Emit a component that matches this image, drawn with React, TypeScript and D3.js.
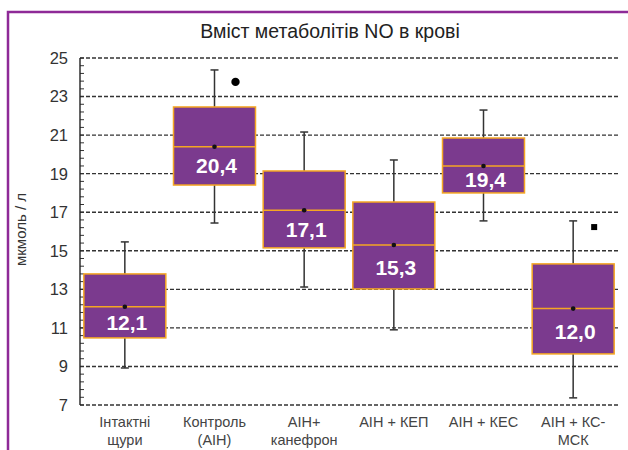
import React from "react";
import * as d3 from "d3";

const categories = [
  ["Інтактні", "щури"],
  ["Контроль", "(АІН)"],
  ["АІН+", "канефрон"],
  ["АІН + КЕП"],
  ["АІН + КЕС"],
  ["АІН + КС-", "МСК"],
];
const whiskerLow = [8.92, 16.44, 13.12, 10.9, 16.55, 7.37];
const q1 = [10.48, 18.41, 15.15, 13.02, 18.0, 9.65];
const median = [12.1, 20.4, 17.1, 15.3, 19.4, 12.0];
const q3 = [13.8, 22.46, 19.14, 17.53, 20.85, 14.32];
const whiskerHigh = [15.46, 24.38, 21.16, 19.71, 22.3, 16.55];
const labels = ["12,1", "20,4", "17,1", "15,3", "19,4", "12,0"];
const outliers = [
  { cat: 1, value: 23.76, shape: "circle", dx: 21 },
  { cat: 5, value: 16.23, shape: "square", dx: 21 },
];
const yTicks = [7, 9, 11, 13, 15, 17, 19, 21, 23, 25];

const W = 628;
const H = 450;
const left = 80;
const right = 618;
const top = 58;
const bottom = 405;

export default function App() {
  const x = d3
    .scaleBand<number>()
    .domain(d3.range(categories.length))
    .range([left, right])
    .paddingInner(0)
    .paddingOuter(0);
  const y = d3.scaleLinear().domain([7, 25]).range([bottom, top]);
  const boxW = 82;
  const minor = d3.range(7, 25.001, 0.4);
  const fill = "#7B3A8E";
  const edge = "#F5A623";
  const font = "'Liberation Sans', Arial, sans-serif";

  return (
    <div style={{ position: "absolute", left: 0, top: 0 }}>
      <svg width={W} height={H} style={{ display: "block", background: "#fff" }}>
        <rect x={8} y={12} width={W + 20} height={H + 20} fill="#fff" stroke="#8E2A97" strokeWidth={2.5} />
        <text x={330} y={38} textAnchor="middle" fontFamily={font} fontSize={19.5} fill="#222">
          Вміст метаболітів NO в крові
        </text>
        {yTicks.map((t) => (
          <g key={t}>
            <line x1={left} x2={right} y1={y(t)} y2={y(t)} stroke="#333" strokeWidth={1.4} strokeDasharray="4 2" />
            <text x={68} y={y(t)} dy="0.36em" textAnchor="end" fontFamily={font} fontSize={16.5} fill="#333">
              {t}
            </text>
          </g>
        ))}
        {minor.map((m, i) => (
          <line key={i} x1={left} x2={left + 4} y1={y(m)} y2={y(m)} stroke="#333" strokeWidth={1} />
        ))}
        <line x1={left} x2={left} y1={top} y2={bottom} stroke="#222" strokeWidth={1.4} />
        <text
          transform={`translate(26,${(top + bottom) / 2 - 2}) rotate(-90)`}
          textAnchor="middle"
          fontFamily={font}
          fontSize={15}
          fill="#333"
        >
          мкмоль / л
        </text>
        {categories.map((c, i) => {
          const cx = (x(i) as number) + x.bandwidth() / 2;
          return (
            <g key={i}>
              <line x1={cx} x2={cx} y1={y(whiskerHigh[i])} y2={y(q3[i])} stroke="#333" strokeWidth={1.5} />
              <line x1={cx} x2={cx} y1={y(q1[i])} y2={y(whiskerLow[i])} stroke="#333" strokeWidth={1.5} />
              <line x1={cx - 4} x2={cx + 4} y1={y(whiskerHigh[i])} y2={y(whiskerHigh[i])} stroke="#333" strokeWidth={1.5} />
              <line x1={cx - 4} x2={cx + 4} y1={y(whiskerLow[i])} y2={y(whiskerLow[i])} stroke="#333" strokeWidth={1.5} />
              <rect
                x={cx - boxW / 2}
                y={y(q3[i])}
                width={boxW}
                height={y(q1[i]) - y(q3[i])}
                fill={fill}
                stroke={edge}
                strokeWidth={1.5}
              />
              <line x1={cx - boxW / 2} x2={cx + boxW / 2} y1={y(median[i])} y2={y(median[i])} stroke={edge} strokeWidth={1.5} />
              <circle cx={cx} cy={y(median[i])} r={2.3} fill="#111" />
              <text
                x={cx + 2}
                y={(y(median[i]) + y(q1[i])) / 2}
                dy="0.36em"
                textAnchor="middle"
                fontFamily={font}
                fontWeight="bold"
                fontSize={21}
                fill="#fff"
              >
                {labels[i]}
              </text>
              {c.map((line, j) => (
                <text
                  key={j}
                  x={cx}
                  y={427 + j * 18}
                  textAnchor="middle"
                  fontFamily={font}
                  fontSize={14.5}
                  fill="#444"
                >
                  {line}
                </text>
              ))}
            </g>
          );
        })}
        {outliers.map((o, i) => {
          const cx = (x(o.cat) as number) + x.bandwidth() / 2 + o.dx;
          const cy = y(o.value);
          return o.shape === "circle" ? (
            <circle key={i} cx={cx} cy={cy} r={4.2} fill="#000" />
          ) : (
            <rect key={i} x={cx - 3} y={cy - 3} width={6} height={6} fill="#000" />
          );
        })}
      </svg>
    </div>
  );
}
